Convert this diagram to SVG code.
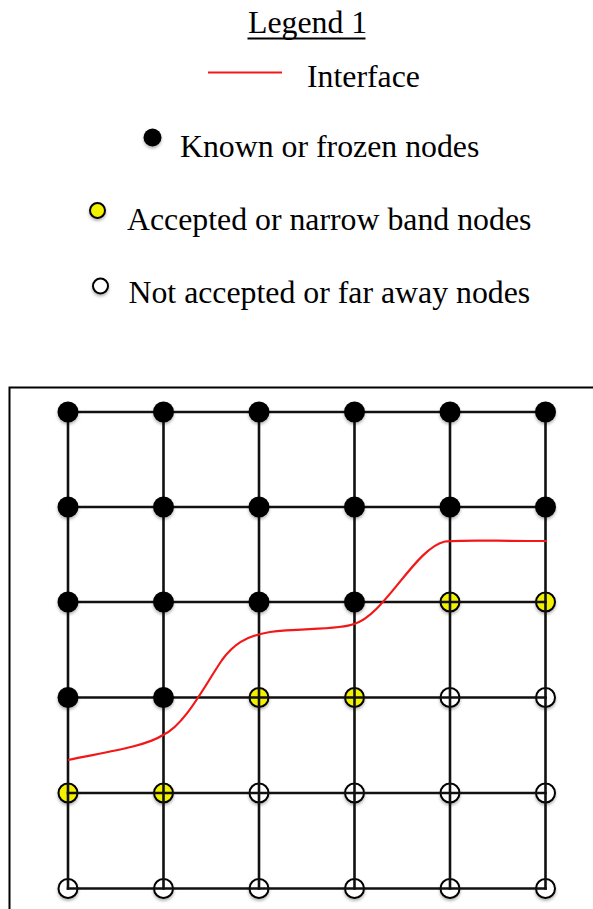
<svg xmlns="http://www.w3.org/2000/svg" width="593" height="909" viewBox="0 0 593 909">
<style>
.t{font-family:"Liberation Serif","Times New Roman",serif;font-size:31.8px;fill:#000}
.g{stroke:#111;stroke-width:2.6;fill:none;stroke-linecap:square}
.k{fill:#000;filter:url(#sh)}
.y{fill:#f2f200;stroke:#000;stroke-width:2;filter:url(#sh)}
.o{fill:#fff;stroke:#000;stroke-width:2;filter:url(#sh)}
.red{stroke:#f21818;stroke-width:2.2;fill:none}
</style>
<defs>
<filter id="sh" x="-50%" y="-50%" width="200%" height="200%">
<feDropShadow dx="0" dy="2" stdDeviation="1.8" flood-color="#000" flood-opacity="0.3"/>
</filter>
</defs>
<rect width="593" height="909" fill="#fff"/>
<g id="legend">
<text class="t" x="248" y="33">Legend 1</text>
<line x1="247.5" y1="38.5" x2="365.5" y2="38.5" stroke="#000" stroke-width="2"/>
<line class="red" x1="208" y1="72.5" x2="282" y2="72.5"/>
<text class="t" x="307" y="87">Interface</text>
<circle class="k" cx="152.5" cy="137.5" r="9"/>
<text class="t" x="180" y="157">Known or frozen nodes</text>
<circle class="y" cx="97.5" cy="210.5" r="7.5"/>
<text class="t" x="127" y="230">Accepted or narrow band nodes</text>
<circle class="o" cx="100.5" cy="286" r="7.5"/>
<text class="t" x="128.5" y="302.5">Not accepted or far away nodes</text>
</g>
<rect id="frame" x="9.5" y="387.5" width="620" height="560" fill="none" stroke="#000" stroke-width="2"/>
<g id="open-nodes">
<g id="n3-5"><circle class="y" cx="450" cy="602" r="9.5"/></g>
<g id="n3-6"><circle class="y" cx="545.5" cy="602" r="9.5"/></g>
<g id="n4-3"><circle class="y" cx="259" cy="697.5" r="9.5"/></g>
<g id="n4-4"><circle class="y" cx="354.5" cy="697.5" r="9.5"/></g>
<g id="n4-5"><circle class="o" cx="450" cy="697.5" r="9.5"/></g>
<g id="n4-6"><circle class="o" cx="545.5" cy="697.5" r="9.5"/></g>
<g id="n5-1"><circle class="y" cx="68" cy="793" r="9.5"/></g>
<g id="n5-2"><circle class="y" cx="163.5" cy="793" r="9.5"/></g>
<g id="n5-3"><circle class="o" cx="259" cy="793" r="9.5"/></g>
<g id="n5-4"><circle class="o" cx="354.5" cy="793" r="9.5"/></g>
<g id="n5-5"><circle class="o" cx="450" cy="793" r="9.5"/></g>
<g id="n5-6"><circle class="o" cx="545.5" cy="793" r="9.5"/></g>
<g id="n6-1"><circle class="o" cx="68" cy="888.5" r="9.5"/></g>
<g id="n6-2"><circle class="o" cx="163.5" cy="888.5" r="9.5"/></g>
<g id="n6-3"><circle class="o" cx="259" cy="888.5" r="9.5"/></g>
<g id="n6-4"><circle class="o" cx="354.5" cy="888.5" r="9.5"/></g>
<g id="n6-5"><circle class="o" cx="450" cy="888.5" r="9.5"/></g>
<g id="n6-6"><circle class="o" cx="545.5" cy="888.5" r="9.5"/></g>
</g>
<g id="connectors">
<path class="g" d="M68,412H545.5M68,507H545.5M68,602H545.5M68,697.5H545.5M68,793H545.5M68,888.5H545.5"/>
<path class="g" d="M68,412V888.5M163.5,412V888.5M259,412V888.5M354.5,412V888.5M450,412V888.5M545.5,412V888.5"/>
<path id="interface" class="red" d="M68,760 C100,753 145,747 163,735 C185,725 205,685 222,660 C233,645 245,636 270,632 C300,628 340,630 354,624 C385,615 415,548 445,541.5 C460,539.5 490,541 547,541"/>
</g>
<g id="known-nodes">
<g id="n1-1"><circle class="k" cx="68" cy="412" r="10.5"/></g>
<g id="n1-2"><circle class="k" cx="163.5" cy="412" r="10.5"/></g>
<g id="n1-3"><circle class="k" cx="259" cy="412" r="10.5"/></g>
<g id="n1-4"><circle class="k" cx="354.5" cy="412" r="10.5"/></g>
<g id="n1-5"><circle class="k" cx="450" cy="412" r="10.5"/></g>
<g id="n1-6"><circle class="k" cx="545.5" cy="412" r="10.5"/></g>
<g id="n2-1"><circle class="k" cx="68" cy="507" r="10.5"/></g>
<g id="n2-2"><circle class="k" cx="163.5" cy="507" r="10.5"/></g>
<g id="n2-3"><circle class="k" cx="259" cy="507" r="10.5"/></g>
<g id="n2-4"><circle class="k" cx="354.5" cy="507" r="10.5"/></g>
<g id="n2-5"><circle class="k" cx="450" cy="507" r="10.5"/></g>
<g id="n2-6"><circle class="k" cx="545.5" cy="507" r="10.5"/></g>
<g id="n3-1"><circle class="k" cx="68" cy="602" r="10.5"/></g>
<g id="n3-2"><circle class="k" cx="163.5" cy="602" r="10.5"/></g>
<g id="n3-3"><circle class="k" cx="259" cy="602" r="10.5"/></g>
<g id="n3-4"><circle class="k" cx="354.5" cy="602" r="10.5"/></g>
<g id="n4-1"><circle class="k" cx="68" cy="697.5" r="10.5"/></g>
<g id="n4-2"><circle class="k" cx="163.5" cy="697.5" r="10.5"/></g>
</g>
</svg>
